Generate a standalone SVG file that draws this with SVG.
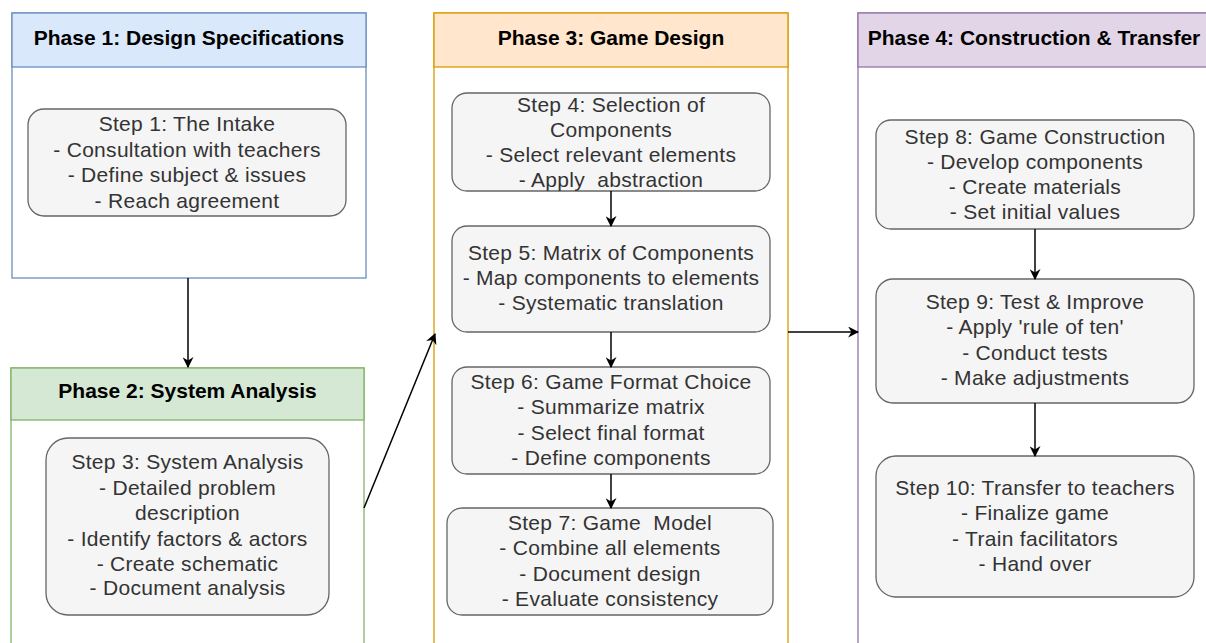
<svg xmlns="http://www.w3.org/2000/svg" width="1206" height="643" viewBox="0 0 1206 643">
  <style>
    .hdr { font-family: "Liberation Sans", Arial, sans-serif; font-weight: bold; font-size: 21px; fill: #000; text-anchor: middle; }
    .txt { font-family: "Liberation Sans", Arial, sans-serif; font-size: 21px; fill: #333333; text-anchor: middle; letter-spacing: 0.3px; white-space: pre; }
    .step { fill: #f5f5f5; stroke: #666666; stroke-width: 1.3; }
    .body { fill: #ffffff; stroke-width: 1.3; }
    .edge { fill: none; stroke: #000; stroke-width: 1.5; marker-end: url(#arrow); }
  </style>
  <defs>
    <marker id="arrow" viewBox="0 0 10 10" refX="9" refY="5" markerWidth="11" markerHeight="11" markerUnits="userSpaceOnUse" orient="auto">
      <path d="M0,0 L10,5 L0,10 L3,5 Z" fill="#000"/>
    </marker>
  </defs>
  <rect width="1206" height="643" fill="#ffffff"/>

  <!-- Phase 1 -->
  <g id="phase1">
    <rect class="body" x="12" y="13" width="354" height="265" stroke="#6c8ebf"/>
    <rect x="12" y="13" width="354" height="54" fill="#dae8fc" stroke="#6c8ebf" stroke-width="1.3"/>
    <text class="hdr" x="189" y="45">Phase 1: Design Specifications</text>
  </g>
  <g id="step1">
    <rect class="step" x="28" y="109" width="318" height="107" rx="16"/>
    <text class="txt" x="187" y="131">Step 1: The Intake</text>
    <text class="txt" x="187" y="156.5">- Consultation with teachers</text>
    <text class="txt" x="187" y="182">- Define subject &amp; issues</text>
    <text class="txt" x="187" y="207.5">- Reach agreement</text>
  </g>

  <!-- Phase 2 -->
  <g id="phase2">
    <rect class="body" x="11" y="368" width="353" height="300" stroke="#82b366"/>
    <rect x="11" y="368" width="353" height="52" fill="#d5e8d4" stroke="#82b366" stroke-width="1.3"/>
    <text class="hdr" x="187.5" y="398">Phase 2: System Analysis</text>
  </g>
  <g id="step3">
    <rect class="step" x="46" y="438" width="283" height="177" rx="22"/>
    <text class="txt" x="187.5" y="469">Step 3: System Analysis</text>
    <text class="txt" x="187.5" y="495">- Detailed problem</text>
    <text class="txt" x="187.5" y="520">description</text>
    <text class="txt" x="187.5" y="546">- Identify factors &amp; actors</text>
    <text class="txt" x="187.5" y="571">- Create schematic</text>
    <text class="txt" x="187.5" y="595">- Document analysis</text>
  </g>

  <!-- Phase 3 -->
  <g id="phase3">
    <rect class="body" x="434" y="13" width="354" height="655" stroke="#d79b00"/>
    <rect x="434" y="13" width="354" height="54" fill="#ffe6cc" stroke="#d79b00" stroke-width="1.3"/>
    <text class="hdr" x="611" y="45">Phase 3: Game Design</text>
  </g>
  <g id="step4">
    <rect class="step" x="452" y="93" width="318" height="98" rx="15"/>
    <text class="txt" x="611" y="112">Step 4: Selection of</text>
    <text class="txt" x="611" y="137">Components</text>
    <text class="txt" x="611" y="162">- Select relevant elements</text>
    <text class="txt" x="611" y="187" xml:space="preserve">- Apply  abstraction</text>
  </g>
  <g id="step5">
    <rect class="step" x="452" y="226" width="318" height="106" rx="15"/>
    <text class="txt" x="611" y="260">Step 5: Matrix of Components</text>
    <text class="txt" x="611" y="284.5">- Map components to elements</text>
    <text class="txt" x="611" y="310">- Systematic translation</text>
  </g>
  <g id="step6">
    <rect class="step" x="452" y="367" width="318" height="107" rx="15"/>
    <text class="txt" x="611" y="389">Step 6: Game Format Choice</text>
    <text class="txt" x="611" y="414">- Summarize matrix</text>
    <text class="txt" x="611" y="440">- Select final format</text>
    <text class="txt" x="611" y="465">- Define components</text>
  </g>
  <g id="step7">
    <rect class="step" x="447" y="508" width="326" height="107" rx="15"/>
    <text class="txt" x="610" y="530" xml:space="preserve">Step 7: Game  Model</text>
    <text class="txt" x="610" y="555">- Combine all elements</text>
    <text class="txt" x="610" y="581">- Document design</text>
    <text class="txt" x="610" y="606">- Evaluate consistency</text>
  </g>

  <!-- Phase 4 -->
  <g id="phase4">
    <rect class="body" x="858" y="13" width="353" height="655" stroke="#9673a6"/>
    <rect x="858" y="13" width="353" height="54" fill="#e1d5e7" stroke="#9673a6" stroke-width="1.3"/>
    <text class="hdr" x="1034" y="45">Phase 4: Construction &amp; Transfer</text>
  </g>
  <g id="step8">
    <rect class="step" x="876" y="120" width="318" height="109" rx="15"/>
    <text class="txt" x="1035" y="144">Step 8: Game Construction</text>
    <text class="txt" x="1035" y="168.5">- Develop components</text>
    <text class="txt" x="1035" y="194">- Create materials</text>
    <text class="txt" x="1035" y="219">- Set initial values</text>
  </g>
  <g id="step9">
    <rect class="step" x="876" y="279" width="318" height="124" rx="17"/>
    <text class="txt" x="1035" y="309">Step 9: Test &amp; Improve</text>
    <text class="txt" x="1035" y="334">- Apply 'rule of ten'</text>
    <text class="txt" x="1035" y="360">- Conduct tests</text>
    <text class="txt" x="1035" y="385">- Make adjustments</text>
  </g>
  <g id="step10">
    <rect class="step" x="876" y="456" width="318" height="141" rx="20"/>
    <text class="txt" x="1035" y="495">Step 10: Transfer to teachers</text>
    <text class="txt" x="1035" y="520">- Finalize game</text>
    <text class="txt" x="1035" y="546">- Train facilitators</text>
    <text class="txt" x="1035" y="571">- Hand over</text>
  </g>

  <!-- Connectors -->
  <g id="connectors">
    <path class="edge" d="M188,278 L188,367"/>
    <path class="edge" d="M364,508 L435,334"/>
    <path class="edge" d="M611,191 L611,226"/>
    <path class="edge" d="M611,332 L611,367"/>
    <path class="edge" d="M611,474 L611,508"/>
    <path class="edge" d="M788,332 L858,332"/>
    <path class="edge" d="M1035,229 L1035,279"/>
    <path class="edge" d="M1035,403 L1035,456"/>
  </g>
</svg>
